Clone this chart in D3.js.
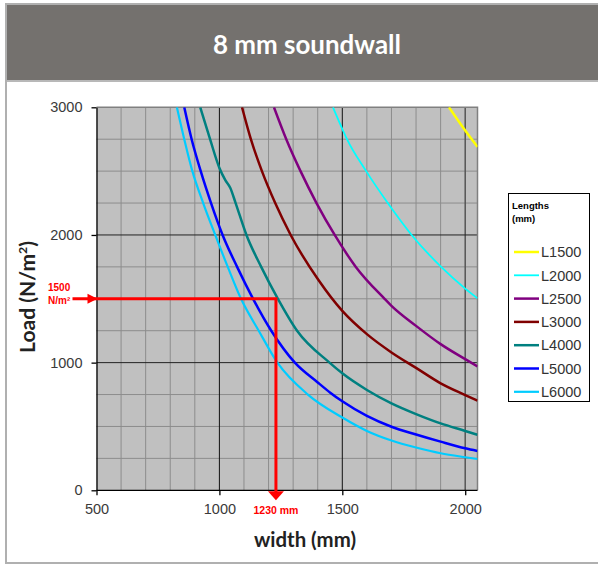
<!DOCTYPE html>
<html>
<head>
<meta charset="utf-8">
<script src="https://cdn.jsdelivr.net/npm/d3@7/dist/d3.min.js"></script>
<style>
  html, body { margin: 0; padding: 0; background: #ffffff; }
  svg { display: block; }
</style>
</head>
<body>
<div id="chart"></div>
<script>
// ---------------- DATA ----------------
const seriesNames = ["L1500", "L2000", "L2500", "L3000", "L4000", "L5000", "L6000"];
const seriesColors = ["#ffff00", "#00ffff", "#800080", "#800000", "#008080", "#0000ff", "#00ccff"];
const seriesWidths = [2.5, 1.8, 2.5, 2.5, 2.5, 2.5, 2.2];

// [width (mm), load (N/m²)]
const L1500 = [[1934, 3000], [2000, 2818], [2050, 2690]];
const L2000 = [[1462, 3000], [1502, 2822], [1519, 2750], [1597, 2500], [1685, 2250], [1782, 2000], [1902, 1750], [2000, 1580], [2050, 1504]];
const L2500 = [[1222, 3000], [1272, 2750], [1330, 2500], [1395, 2250], [1469, 2000], [1555, 1750], [1672, 1500], [1700, 1445], [1800, 1288], [1900, 1145], [2000, 1027], [2050, 970]];
const L3000 = [[1092, 3000], [1128, 2750], [1173, 2500], [1227, 2250], [1290, 2000], [1403, 1647], [1500, 1405], [1600, 1223], [1700, 1080], [1800, 959], [1900, 838], [2000, 746], [2050, 702]];
const L4000 = [[922, 3000], [962, 2750], [1000, 2525], [1024, 2430], [1044, 2370], [1066, 2250], [1110, 2000], [1170, 1750], [1238, 1500], [1316, 1250], [1448, 1000], [1500, 916], [1600, 786], [1700, 681], [1800, 597], [1900, 524], [2000, 465], [2050, 435]];
const L5000 = [[857, 3000], [887, 2750], [924, 2500], [966, 2250], [1013, 2000], [1072, 1750], [1137, 1500], [1211, 1250], [1307, 1000], [1400, 845], [1451, 765], [1500, 697], [1600, 583], [1700, 498], [1800, 437], [1900, 381], [2000, 329], [2050, 308]];
const L6000 = [[827, 3000], [857, 2750], [890, 2500], [934, 2250], [983, 2000], [1034, 1750], [1088, 1500], [1160, 1250], [1236, 1000], [1360, 750], [1500, 570], [1600, 465], [1700, 390], [1800, 335], [1900, 290], [2000, 259], [2050, 245]];
const seriesData = [L1500, L2000, L2500, L3000, L4000, L5000, L6000];

const xTicks = [500, 1000, 1500, 2000];
const yTicks = [0, 1000, 2000, 3000];
const xMinor = [600, 700, 800, 900, 1100, 1200, 1300, 1400, 1600, 1700, 1800, 1900];
const yMinor = [250, 500, 750, 1250, 1500, 1750, 2250, 2500, 2750];
const xMajorGrid = [1000, 1500, 2000];
const yMajorGrid = [1000, 2000];
const xDomain = [500, 2050];
const yDomain = [0, 3000];

const title = "8 mm soundwall";
const xTitle = "width (mm)";
const legendTitle = ["Lengths", "(mm)"];
const annotation = { width: 1230, load: 1500, loadLabel: ["1500", "N/m²"], widthLabel: "1230 mm" };

// ---------------- LAYOUT ----------------
const W = 598, H = 565;
const plot = { left: 96.5, right: 477.5, top: 107.3, bottom: 490.3 };

const svg = d3.select("#chart").append("svg").attr("width", W).attr("height", H);

// frame + title bar
svg.append("rect").attr("x", 6).attr("y", 4).attr("width", W + 10).attr("height", 559)
  .attr("fill", "#ffffff").attr("stroke", "#b0b0b0").attr("stroke-width", 2);
svg.append("rect").attr("x", 7).attr("y", 5).attr("width", W).attr("height", 75).attr("fill", "#74716e");
svg.append("rect").attr("x", 7).attr("y", 80).attr("width", W).attr("height", 2).attr("fill", "#b8b8b8");
const titleFont = "Lato, 'Open Sans', sans-serif";
svg.append("text").attr("x", 307).attr("y", 44).attr("text-anchor", "middle").attr("dominant-baseline", "central")
  .attr("fill", "#ffffff").style("font-family", titleFont).style("font-weight", 700)
  .style("font-size", "26px").attr("textLength", 188).attr("lengthAdjust", "spacingAndGlyphs").text(title);

const x = d3.scaleLinear().domain(xDomain).range([plot.left, plot.right]);
const y = d3.scaleLinear().domain(yDomain).range([plot.bottom, plot.top]);

// plot background
svg.append("rect").attr("x", plot.left).attr("y", plot.top)
  .attr("width", plot.right - plot.left).attr("height", plot.bottom - plot.top).attr("fill", "#c0c0c0");

// grid
const g = svg.append("g");
g.selectAll(".vmin").data(xMinor).join("line")
  .attr("x1", d => x(d)).attr("x2", d => x(d)).attr("y1", plot.top).attr("y2", plot.bottom)
  .attr("stroke", "#8c8c8c").attr("stroke-width", 1);
g.selectAll(".hmin").data(yMinor).join("line")
  .attr("y1", d => y(d)).attr("y2", d => y(d)).attr("x1", plot.left).attr("x2", plot.right)
  .attr("stroke", "#8c8c8c").attr("stroke-width", 1);
g.selectAll(".vmaj").data(xMajorGrid).join("line")
  .attr("x1", d => x(d)).attr("x2", d => x(d)).attr("y1", plot.top).attr("y2", plot.bottom)
  .attr("stroke", d => d === 2000 ? "#555555" : "#111111").attr("stroke-width", d => d === 2000 ? 1.5 : 1);
g.selectAll(".hmaj").data(yMajorGrid).join("line")
  .attr("y1", d => y(d)).attr("y2", d => y(d)).attr("x1", plot.left).attr("x2", plot.right)
  .attr("stroke", "#222222").attr("stroke-width", 1);

// top/right border
svg.append("path")
  .attr("d", `M${plot.left},${plot.top}H${plot.right}V${plot.bottom}`)
  .attr("fill", "none").attr("stroke", "#808080").attr("stroke-width", 1.5);

// curves
svg.append("clipPath").attr("id", "clip").append("rect")
  .attr("x", plot.left).attr("y", plot.top).attr("width", plot.right - plot.left).attr("height", plot.bottom - plot.top);
const line = d3.line().x(d => x(d[0])).y(d => y(d[1])).curve(d3.curveMonotoneX);
svg.append("g").attr("clip-path", "url(#clip)")
  .selectAll("path").data(seriesData).join("path")
  .attr("d", line).attr("fill", "none")
  .attr("stroke", (d, i) => seriesColors[i]).attr("stroke-width", (d, i) => seriesWidths[i])
  .attr("stroke-linejoin", "round");

// axes
const tickFont = "'Liberation Sans', Arial, sans-serif";
const xAxis = svg.append("g").attr("transform", `translate(0,${plot.bottom})`)
  .call(d3.axisBottom(x).tickValues(xTicks).tickSize(5).tickSizeOuter(0).tickPadding(8).tickFormat(d3.format("d")));
const yAxis = svg.append("g").attr("transform", `translate(${plot.left},0)`)
  .call(d3.axisLeft(y).tickValues(yTicks).tickSize(5).tickSizeOuter(0).tickPadding(9).tickFormat(d3.format("d")));
[xAxis, yAxis].forEach(a => {
  a.select(".domain").attr("stroke", "#000").attr("stroke-width", 1.3);
  a.selectAll(".tick line").attr("stroke", "#000").attr("stroke-width", 1.3);
  a.selectAll(".tick text").attr("fill", "#3a3a3a").style("font-family", tickFont).style("font-size", "14.5px");
});
xAxis.select(".domain").attr("d", `M${plot.left},0H${plot.right}`);

// axis titles
svg.append("text").attr("x", 305).attr("y", 547).attr("text-anchor", "middle")
  .attr("fill", "#222").style("font-family", titleFont).style("font-weight", 700).style("font-size", "20.5px")
  .attr("textLength", 102).attr("lengthAdjust", "spacingAndGlyphs")
  .text(xTitle);
const yt = svg.append("text").attr("transform", "translate(35,297) rotate(-90)").attr("text-anchor", "middle")
  .attr("fill", "#222").style("font-family", titleFont).style("font-weight", 700).style("font-size", "20.5px")
  .attr("textLength", 112).attr("lengthAdjust", "spacingAndGlyphs");
yt.append("tspan").text("Load (N/m");
yt.append("tspan").attr("dy", -8).style("font-size", "12px").text("2");
yt.append("tspan").attr("dy", 8).text(")");

// annotation
const red = "#ff0000";
const ax = x(annotation.width), ay = y(annotation.load);
svg.append("path").attr("d", `M${plot.left - 24},${ay}H${ax}V${plot.bottom + 2}`)
  .attr("fill", "none").attr("stroke", red).attr("stroke-width", 3);
svg.append("path").attr("d", `M${plot.left + 1},${ay}L${plot.left - 9},${ay - 5}L${plot.left - 9},${ay + 5}Z`).attr("fill", red);
svg.append("path").attr("d", `M${ax},${plot.bottom + 10}L${ax - 8},${plot.bottom + 1}L${ax + 8},${plot.bottom + 1}Z`).attr("fill", red);
const redFont = "'Liberation Sans', Arial, sans-serif";
svg.append("text").attr("x", 48).attr("y", 291).attr("fill", red).style("font-family", redFont)
  .style("font-weight", 700).style("font-size", "10px").text(annotation.loadLabel[0]);
svg.append("text").attr("x", 48).attr("y", 304).attr("fill", red).style("font-family", redFont)
  .style("font-weight", 700).style("font-size", "10px").text(annotation.loadLabel[1]);
svg.append("text").attr("x", ax).attr("y", 514).attr("text-anchor", "middle").attr("fill", red)
  .style("font-family", redFont).style("font-weight", 700).style("font-size", "10.5px").text(annotation.widthLabel);

// legend
const lg = svg.append("g");
lg.append("rect").attr("x", 508.5).attr("y", 193.5).attr("width", 81).attr("height", 208)
  .attr("fill", "#fff").attr("stroke", "#000").attr("stroke-width", 1);
legendTitle.forEach((t, i) => {
  lg.append("text").attr("x", 512).attr("y", 209 + i * 13).attr("fill", "#000")
    .style("font-family", redFont).style("font-weight", 700).style("font-size", "9.5px").text(t);
});
const items = lg.selectAll(".item").data(seriesNames).join("g")
  .attr("transform", (d, i) => `translate(0,${252 + i * 23.3})`);
items.append("line").attr("x1", 514).attr("x2", 539).attr("y1", 0).attr("y2", 0)
  .attr("stroke", (d, i) => seriesColors[i]).attr("stroke-width", (d, i) => seriesWidths[i]);
items.append("text").attr("x", 541).attr("y", 0).attr("dy", "0.36em").attr("fill", "#333")
  .style("font-family", redFont).style("font-size", "14.5px").text(d => d);
</script>
</body>
</html>
